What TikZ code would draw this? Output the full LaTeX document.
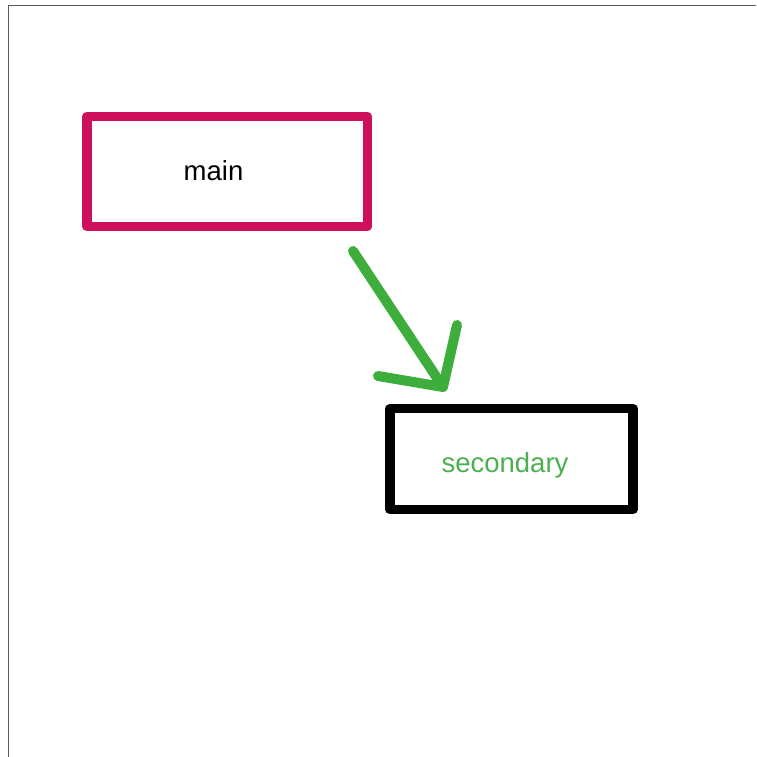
\documentclass[tikz,border=0pt]{standalone}
\usepackage{fontspec}
\setmainfont{Liberation Sans}
\definecolor{mainred}{HTML}{CE0F5B}
\definecolor{arrowgreen}{HTML}{3DAE3B}
\definecolor{textgreen}{HTML}{4CAF50}
\definecolor{framegray}{HTML}{5A5A5A}
\tikzset{
  boxframe/.style={draw, line width=9.5pt, line join=round, inner sep=0pt, fill=none},
  boxlabel/.style={anchor=base, inner sep=0pt, font=\fontsize{27.5}{30}\selectfont},
  arrowline/.style={draw=arrowgreen, line width=10pt, line cap=round, line join=round}
}
\begin{document}
\begin{tikzpicture}[x=1pt,y=-1pt]
\useasboundingbox (0,0) rectangle (756,757);
% frame lines
\coordinate (ftl) at (8.5,5.5);
\coordinate (ftr) at (756,5.5);
\coordinate (fbl) at (8.5,757);
\draw[framegray, line width=1.2pt] (fbl) -- (ftl) -- (ftr);
% boxes
\node[boxframe, draw=mainred, minimum width=280.5pt, minimum height=110pt] (main) at (227.25,171.5) {};
\node[boxframe, draw=black, minimum width=243pt, minimum height=101pt] (secondary) at (511.5,459) {};
% labels
\node[boxlabel] (maintext) at (213.5,180) {main};
\node[boxlabel, text=textgreen] (sectext) at (505,472.5) {secondary};
% arrow
\coordinate (s) at (353,251);
\coordinate (t) at (443,387);
\coordinate (bl) at (378,376);
\coordinate (br) at (457,325);
\draw[arrowline] (s) -- (t);
\draw[arrowline] (bl) -- (t) -- (br);
\end{tikzpicture}
\end{document}
